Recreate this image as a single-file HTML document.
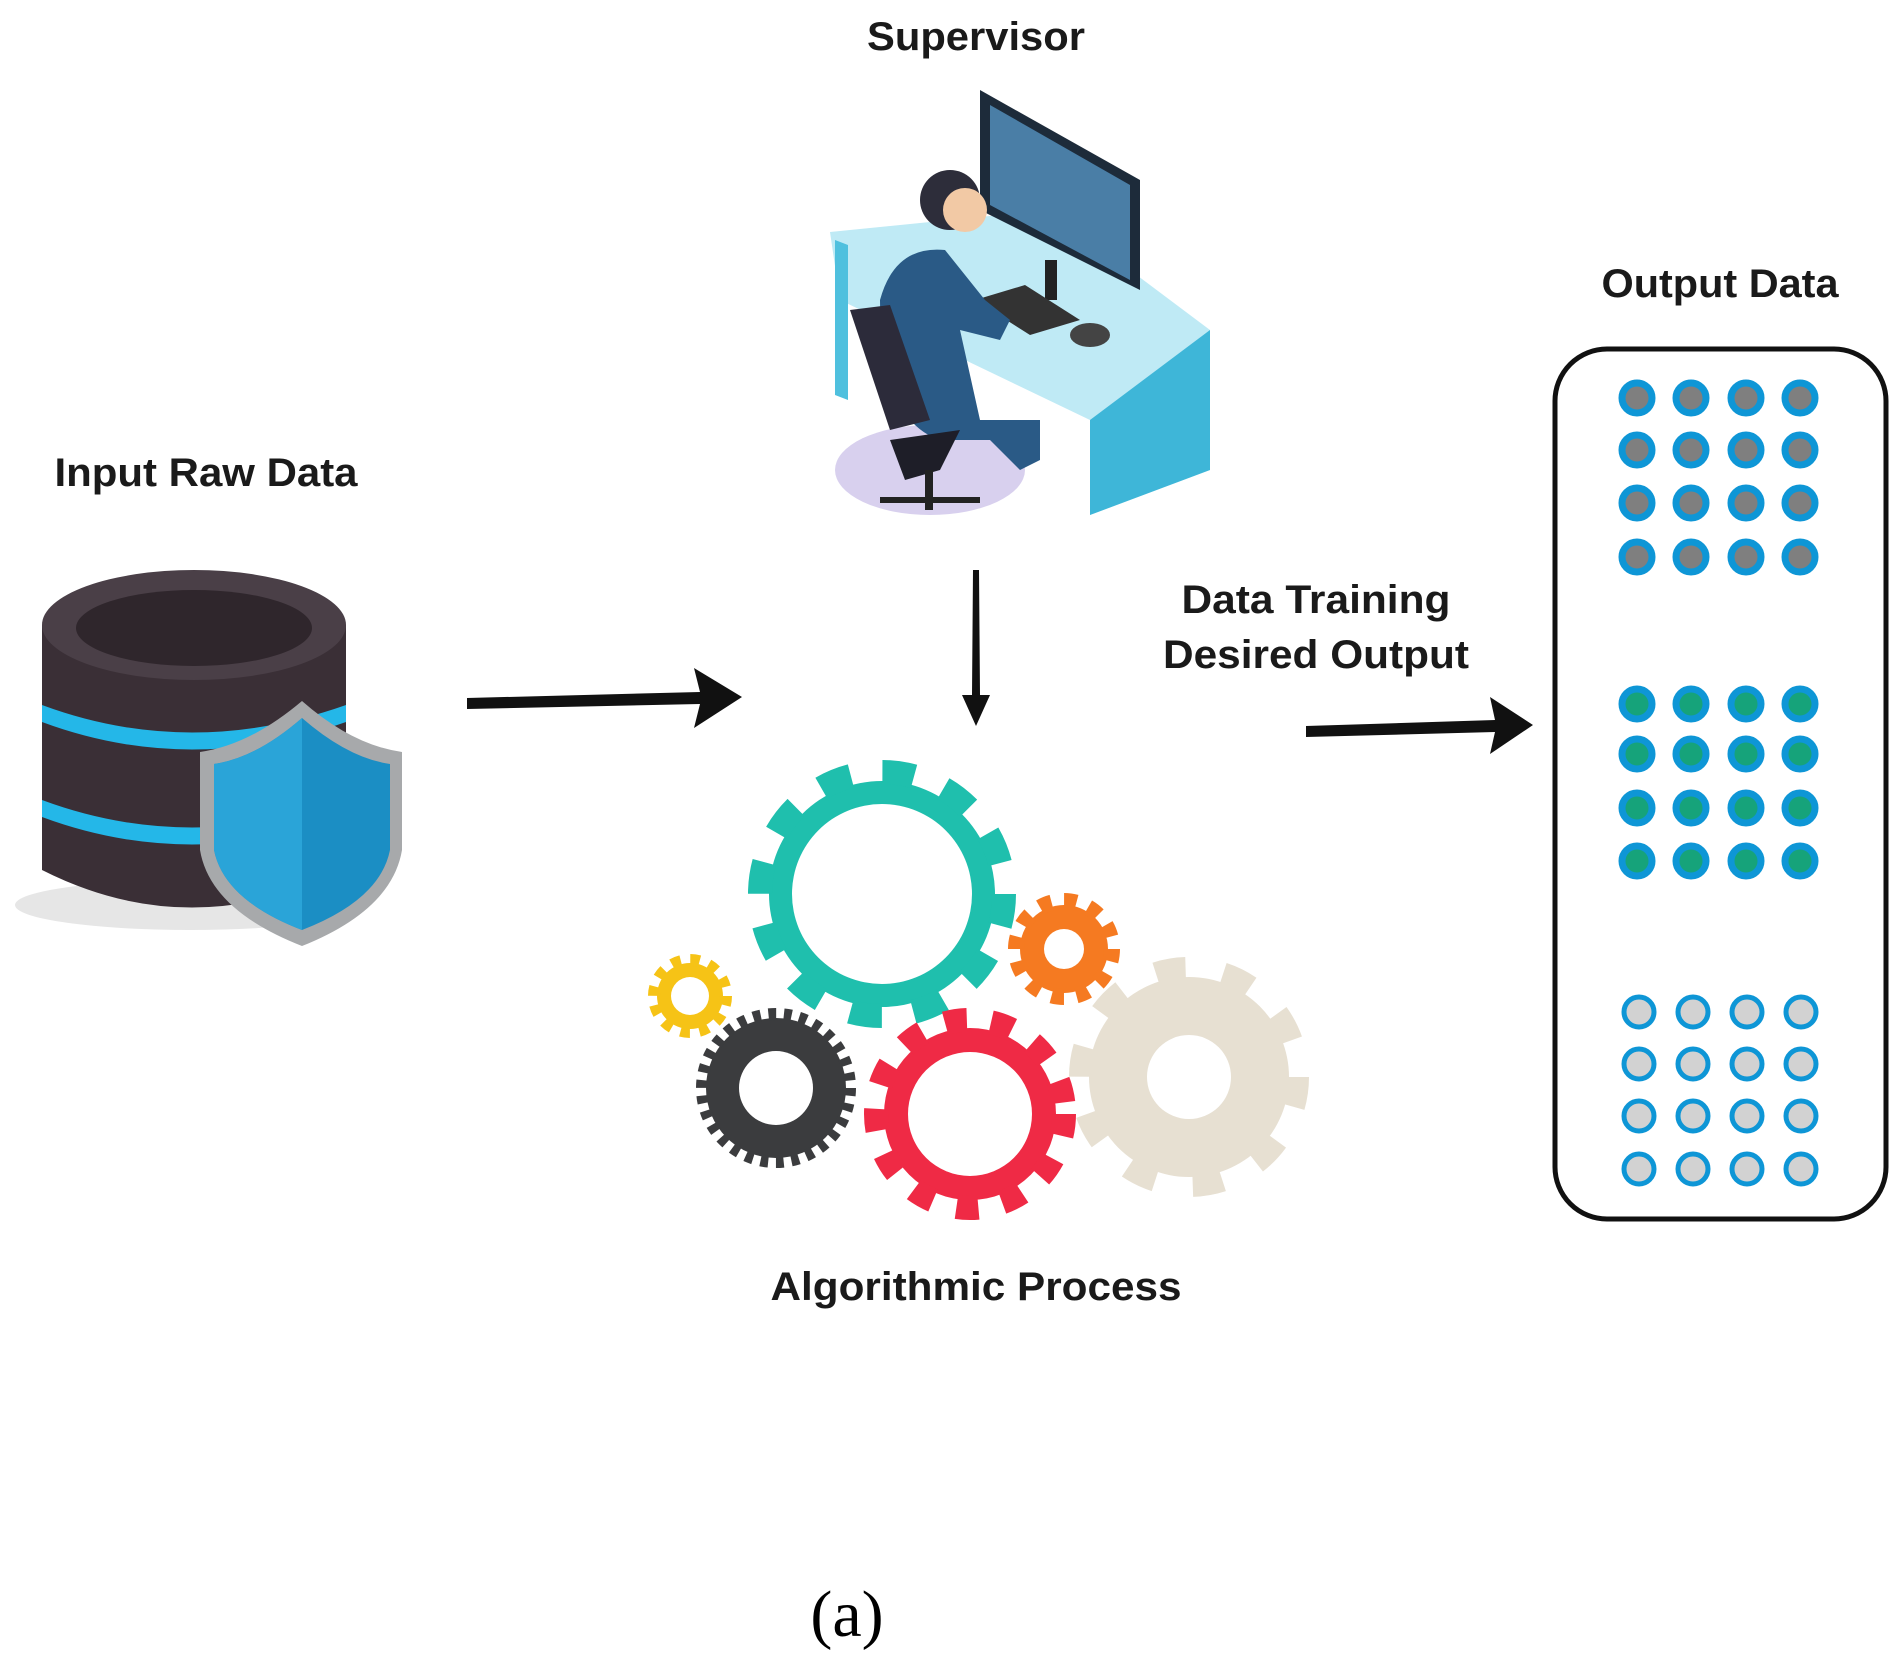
<!DOCTYPE html>
<html><head><meta charset="utf-8"><style>
html,body{margin:0;padding:0;background:#fff}
body{width:1902px;height:1674px;overflow:hidden;position:relative}
svg{position:absolute;left:0;top:0}
</style></head><body>
<svg width="1902" height="1674" viewBox="0 0 1902 1674" xmlns="http://www.w3.org/2000/svg">
<g font-family="Liberation Sans, sans-serif" font-weight="bold" fill="#1a1a1a" font-size="40" text-anchor="middle" lengthAdjust="spacingAndGlyphs">
<text x="976" y="50" textLength="218" lengthAdjust="spacingAndGlyphs">Supervisor</text>
<text x="206" y="486" textLength="303" lengthAdjust="spacingAndGlyphs">Input Raw Data</text>
<text x="1720" y="297" textLength="237" lengthAdjust="spacingAndGlyphs">Output Data</text>
<text x="1316" y="613" textLength="269" lengthAdjust="spacingAndGlyphs">Data Training</text>
<text x="1316" y="668" textLength="306" lengthAdjust="spacingAndGlyphs">Desired Output</text>
<text x="976" y="1300" textLength="411" lengthAdjust="spacingAndGlyphs">Algorithmic Process</text>
</g>
<text x="847" y="1636" font-family="Liberation Serif, serif" font-size="66" text-anchor="middle" fill="#000">(a)</text>

<g fill="#111">
<polygon points="467,698 700,692 694,668 742,697 694,728 700,704 467,709"/>
<polygon points="973,570 979,570 980,695 990,695 976,726 962,695 972,695"/>
<polygon points="1306,726 1495,720 1490,697 1533,725 1490,754 1495,732 1306,737"/>
</g>

<ellipse cx="190" cy="905" rx="175" ry="25" fill="#e6e6e6"/>
<path d="M42,625 L42,870 Q190,945 346,870 L346,625 Z" fill="#3a2f36"/>
<path d="M42,705 Q190,760 346,705 L346,722 Q190,777 42,722 Z" fill="#24b7e8"/>
<path d="M42,800 Q190,855 346,800 L346,817 Q190,872 42,817 Z" fill="#24b7e8"/>
<ellipse cx="194" cy="625" rx="152" ry="55" fill="#4a3f47"/>
<ellipse cx="194" cy="628" rx="118" ry="38" fill="#2f262c"/>
<path d="M302,701 Q250,745 200,752 L200,850 Q210,910 302,946 Q392,910 402,850 L402,752 Q352,745 302,701 Z" fill="#a7a9ab"/>
<path d="M302,718 Q256,758 214,764 L214,850 Q224,900 302,930 Q380,900 390,850 L390,764 Q348,758 302,718 Z" fill="#1b8ec4"/>
<path d="M302,718 Q256,758 214,764 L214,850 Q224,900 302,930 Z" fill="#2aa4d8"/>

<ellipse cx="930" cy="470" rx="95" ry="45" fill="#d8d0ee"/>
<polygon points="830,232 1050,210 1210,330 1210,470 1090,515 1090,420 840,300" fill="#bfeaf5"/>
<polygon points="1090,420 1210,330 1210,470 1090,515" fill="#3eb6d8"/>
<polygon points="835,240 848,245 848,400 835,395" fill="#4fc0de"/>
<polygon points="980,90 1140,180 1140,290 980,210" fill="#1d2b3a"/>
<polygon points="990,105 1130,185 1130,280 990,205" fill="#4a7ea6"/>
<rect x="1045" y="260" width="12" height="40" fill="#222"/>
<polygon points="975,300 1025,285 1080,320 1030,335" fill="#333"/>
<ellipse cx="1090" cy="335" rx="20" ry="12" fill="#444"/>
<path d="M880,300 Q895,245 945,250 L985,300 L1010,320 L1000,340 L960,330 L980,420 L1040,420 L1040,460 L1020,470 L990,440 L940,440 Q880,420 880,300 Z" fill="#2a5a86"/>
<circle cx="950" cy="200" r="30" fill="#2d2d3a"/>
<circle cx="965" cy="210" r="22" fill="#f2c9a5"/>
<path d="M850,310 L890,305 L930,420 L890,430 Z" fill="#2c2b3a"/>
<path d="M890,440 L960,430 L940,470 L905,480 Z" fill="#1e1e28"/>
<rect x="925" y="470" width="8" height="40" fill="#222"/>
<line x1="880" y1="500" x2="980" y2="500" stroke="#222" stroke-width="6"/>

<g>
<circle cx="882" cy="894" r="113" fill="#1fbfad"/>
<circle cx="882" cy="894" r="122" fill="none" stroke="#1fbfad" stroke-width="24" stroke-dasharray="32 31.9"/>
<circle cx="882" cy="894" r="90" fill="#fff"/>
</g>
<g>
<circle cx="1064" cy="949" r="44" fill="#f57a21"/>
<circle cx="1064" cy="949" r="48" fill="none" stroke="#f57a21" stroke-width="16" stroke-dasharray="12.5 12.6"/>
<circle cx="1064" cy="949" r="20" fill="#fff"/>
</g>
<g>
<circle cx="690" cy="996" r="33" fill="#f6c316"/>
<circle cx="690" cy="996" r="36" fill="none" stroke="#f6c316" stroke-width="12" stroke-dasharray="9.4 9.45"/>
<circle cx="690" cy="996" r="19" fill="#fff"/>
</g>
<g>
<circle cx="776" cy="1088" r="70" fill="#3b3c3e"/>
<circle cx="776" cy="1088" r="74" fill="none" stroke="#3b3c3e" stroke-width="12" stroke-dasharray="7.75 7.75"/>
<circle cx="776" cy="1088" r="37" fill="#fff"/>
</g>
<g>
<circle cx="1189" cy="1077" r="100" fill="#e7e0d2"/>
<circle cx="1189" cy="1077" r="108" fill="none" stroke="#e7e0d2" stroke-width="24" stroke-dasharray="30 37.9"/>
<circle cx="1189" cy="1077" r="42" fill="#fff"/>
</g>
<g>
<circle cx="970" cy="1114" r="86" fill="#ef2a45"/>
<circle cx="970" cy="1114" r="94" fill="none" stroke="#ef2a45" stroke-width="24" stroke-dasharray="22 24.4"/>
<circle cx="970" cy="1114" r="62" fill="#fff"/>
</g>

<rect x="1555" y="349" width="331" height="870" rx="52" fill="none" stroke="#111" stroke-width="5"/>
<g fill="#7f7f7f" stroke="#0e96d6" stroke-width="7">
<circle cx="1637" cy="398" r="15"/><circle cx="1691" cy="398" r="15"/><circle cx="1746" cy="398" r="15"/><circle cx="1800" cy="398" r="15"/>
<circle cx="1637" cy="450" r="15"/><circle cx="1691" cy="450" r="15"/><circle cx="1746" cy="450" r="15"/><circle cx="1800" cy="450" r="15"/>
<circle cx="1637" cy="503" r="15"/><circle cx="1691" cy="503" r="15"/><circle cx="1746" cy="503" r="15"/><circle cx="1800" cy="503" r="15"/>
<circle cx="1637" cy="557" r="15"/><circle cx="1691" cy="557" r="15"/><circle cx="1746" cy="557" r="15"/><circle cx="1800" cy="557" r="15"/>
</g>
<g fill="#16a37a" stroke="#0e96d6" stroke-width="7">
<circle cx="1637" cy="704" r="15"/><circle cx="1691" cy="704" r="15"/><circle cx="1746" cy="704" r="15"/><circle cx="1800" cy="704" r="15"/>
<circle cx="1637" cy="754" r="15"/><circle cx="1691" cy="754" r="15"/><circle cx="1746" cy="754" r="15"/><circle cx="1800" cy="754" r="15"/>
<circle cx="1637" cy="808" r="15"/><circle cx="1691" cy="808" r="15"/><circle cx="1746" cy="808" r="15"/><circle cx="1800" cy="808" r="15"/>
<circle cx="1637" cy="861" r="15"/><circle cx="1691" cy="861" r="15"/><circle cx="1746" cy="861" r="15"/><circle cx="1800" cy="861" r="15"/>
</g>
<g fill="#d2d2d2" stroke="#0e96d6" stroke-width="5">
<circle cx="1639" cy="1012" r="15"/><circle cx="1693" cy="1012" r="15"/><circle cx="1747" cy="1012" r="15"/><circle cx="1801" cy="1012" r="15"/>
<circle cx="1639" cy="1064" r="15"/><circle cx="1693" cy="1064" r="15"/><circle cx="1747" cy="1064" r="15"/><circle cx="1801" cy="1064" r="15"/>
<circle cx="1639" cy="1116" r="15"/><circle cx="1693" cy="1116" r="15"/><circle cx="1747" cy="1116" r="15"/><circle cx="1801" cy="1116" r="15"/>
<circle cx="1639" cy="1169" r="15"/><circle cx="1693" cy="1169" r="15"/><circle cx="1747" cy="1169" r="15"/><circle cx="1801" cy="1169" r="15"/>
</g>
</svg>
</body></html>
